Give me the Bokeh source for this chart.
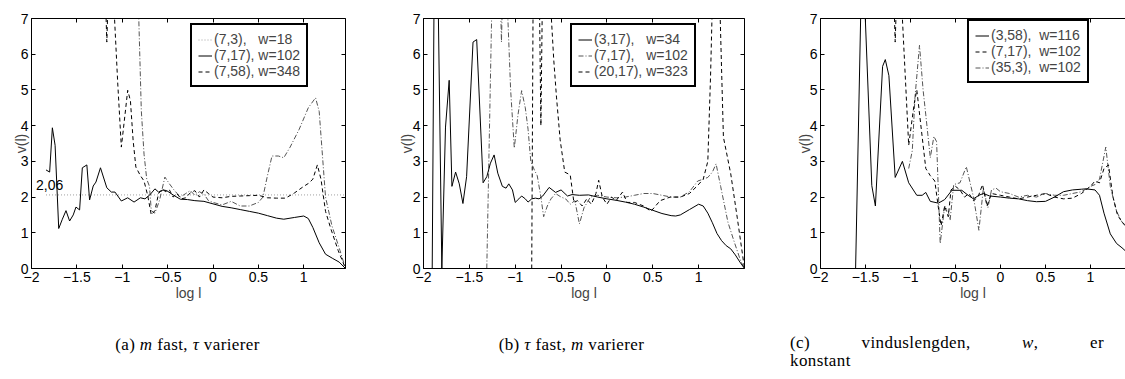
from bokeh.plotting import figure
from bokeh.models import Range1d, LinearAxis, FixedTicker, Label, Legend, LegendItem, Div
from bokeh.layouts import row, column
from bokeh.embed import file_html
from bokeh.resources import INLINE

# ---------------- data ----------------
x_ticks = [-2, -1.5, -1, -0.5, 0, 0.5, 1]
x_tick_labels = ["\u22122", "\u22121.5", "\u22121", "\u22120.5", "0", "0.5", "1"]
y_ticks = [0, 1, 2, 3, 4, 5, 6, 7]

# panel (a): m fixed, tau varies
a_ref_x = [-1.84, 1.46]
a_ref_y = [2.06, 2.06]
a_ref_label = "2,06"

a_solid_x = [-1.84, -1.80, -1.77, -1.74, -1.70, -1.66, -1.62, -1.58, -1.54, -1.51, -1.47, -1.44, -1.39, -1.36,
             -1.32, -1.29, -1.24, -1.17, -1.12, -1.08, -1.01, -0.94, -0.87, -0.80, -0.75, -0.70, -0.64, -0.60,
             -0.55, -0.51, -0.44, -0.36, -0.28, -0.20, -0.10, 0.0, 0.1, 0.2, 0.3, 0.4, 0.5, 0.6, 0.7, 0.78,
             0.9, 1.0, 1.05, 1.1, 1.17, 1.24, 1.32, 1.39, 1.46]
a_solid_y = [2.76, 2.70, 3.94, 3.45, 1.12, 1.38, 1.62, 1.33, 1.50, 1.72, 1.64, 2.82, 2.90, 1.92,
             2.31, 2.42, 2.82, 2.26, 2.14, 2.14, 1.89, 1.98, 1.86, 1.98, 1.95, 2.05, 2.23, 2.14,
             2.20, 2.18, 2.06, 1.94, 1.93, 1.90, 1.88, 1.81, 1.74, 1.70, 1.65, 1.60, 1.55, 1.48, 1.41, 1.38,
             1.43, 1.47, 1.40, 1.15, 0.72, 0.40, 0.28, 0.18, 0.0]

a_dash_x = [-1.185, -1.17, -1.155, -1.12, -1.085, -1.05, -1.01, -0.97, -0.94, -0.91, -0.88, -0.85, -0.80,
            -0.76, -0.72, -0.68, -0.64, -0.60, -0.56, -0.52, -0.48, -0.44, -0.40, -0.35, -0.30, -0.25, -0.20,
            -0.15, -0.10, -0.05, 0.0, 0.1, 0.2, 0.3, 0.4, 0.5, 0.6, 0.7, 0.8, 0.9, 1.0, 1.05, 1.1, 1.15,
            1.19, 1.24, 1.30, 1.38, 1.46]
a_dash_y = [7.6, 6.34, 7.6, 12.0, 7.0, 5.2, 3.40, 4.3, 4.99, 4.7, 3.58, 2.84, 2.6,
            2.45, 2.05, 1.50, 1.62, 2.10, 2.22, 2.15, 2.20, 2.0, 2.10, 1.95, 1.98, 2.12, 2.18,
            2.0, 2.2, 2.1, 2.0, 1.98, 2.02, 2.03, 2.04, 2.05, 1.98, 1.97, 1.97, 2.12, 2.3, 2.38, 2.5, 2.9,
            2.5, 1.6, 1.1, 0.5, 0.0]

a_dashdot_x = [-0.82, -0.79, -0.76, -0.73, -0.70, -0.68, -0.64, -0.59, -0.53, -0.48, -0.43, -0.36, -0.30,
               -0.25, -0.20, -0.15, -0.10, -0.05, 0.0, 0.1, 0.2, 0.3, 0.4, 0.5, 0.55, 0.60, 0.65, 0.72,
               0.78, 0.85, 0.95, 1.05, 1.13, 1.17, 1.24, 1.31, 1.40, 1.46]
a_dashdot_y = [7.2, 4.42, 3.2, 2.5, 2.3, 1.62, 1.55, 1.9, 2.56, 2.37, 2.2, 2.0, 2.1,
               2.18, 2.05, 2.15, 2.08, 1.9, 1.85, 1.78, 1.88, 1.75, 1.75, 1.85, 2.0, 2.6, 3.15, 3.15,
               3.1, 3.4, 3.9, 4.5, 4.78, 4.4, 2.0, 1.2, 0.5, 0.0]

a_labels = ["(7,3),\u00a0\u00a0\u00a0w=18", "(7,17), w=102", "(7,58), w=348"]

# panel (b): tau fixed, m varies
b_solid_x = [-1.905, -1.885, -1.86, -1.84, -1.80, -1.76, -1.72, -1.69, -1.65, -1.61, -1.57, -1.53, -1.46,
             -1.42, -1.35, -1.31, -1.27, -1.23, -1.19, -1.14, -1.10, -1.07, -1.03, -1.00, -0.96, -0.93,
             -0.89, -0.86, -0.82, -0.78, -0.74, -0.70, -0.63, -0.56, -0.50, -0.43, -0.38, -0.30, -0.20,
             -0.10, 0.0, 0.1, 0.2, 0.3, 0.4, 0.5, 0.6, 0.7, 0.75, 0.8, 0.9, 1.0, 1.05, 1.1, 1.15, 1.2,
             1.25, 1.3, 1.35, 1.4, 1.45, 1.5]
b_solid_y = [0.0, 7.5, 10.0, 7.5, 0.0, 3.96, 5.27, 2.3, 2.70, 2.37, 1.82, 2.57, 6.34,
             6.41, 2.40, 2.57, 2.95, 3.18, 2.67, 2.30, 2.25, 2.37, 2.20, 1.85, 1.95, 2.03,
             1.95, 1.86, 1.95, 1.97, 1.95, 2.03, 2.27, 2.13, 2.20, 2.03, 2.07, 2.05, 2.06,
             2.0, 1.95, 1.91, 1.86, 1.80, 1.72, 1.63, 1.54, 1.48, 1.47, 1.50, 1.65, 1.80, 1.75, 1.55, 1.28, 0.98,
             0.78, 0.64, 0.55, 0.38, 0.18, 0.0]

b_dashdot_x = [-1.31, -1.25, -1.20, -1.16, -1.15, -1.14, -1.11, -1.08, -1.05, -1.01, -0.97, -0.93, -0.89,
               -0.86, -0.83, -0.79, -0.76, -0.72, -0.69, -0.65, -0.61, -0.56, -0.50, -0.45, -0.40, -0.35,
               -0.30, -0.25, -0.18, -0.10, 0.0, 0.1, 0.2, 0.3, 0.4, 0.5, 0.6, 0.7, 0.8, 0.9, 0.99, 1.05,
               1.1, 1.15, 1.19, 1.24, 1.32, 1.39, 1.46, 1.5]
b_dashdot_y = [0.0, 8.0, 10.0, 7.5, 6.34, 7.5, 10.0, 7.0, 5.0, 3.37, 4.3, 4.98, 4.5,
               3.9, 3.0, 2.75, 2.6, 2.0, 1.45, 1.75, 1.95, 2.1, 2.0, 1.95, 1.8, 1.9,
               1.25, 1.7, 2.0, 2.05, 2.0, 1.98, 2.0, 2.05, 2.1, 2.1, 2.05, 2.0, 2.0, 2.15, 2.45, 2.5,
               2.55, 2.7, 2.93, 2.3, 1.29, 0.73, 0.2, 0.0]

b_dash_x = [-0.82, -0.805, -0.77, -0.735, -0.72, -0.705, -0.67, -0.64, -0.61, -0.58, -0.55, -0.51, -0.46,
            -0.40, -0.36, -0.32, -0.27, -0.22, -0.17, -0.12, -0.09, -0.05, 0.0, 0.05, 0.1, 0.17, 0.22,
            0.3, 0.4, 0.48, 0.58, 0.69, 0.8, 0.9, 0.98, 1.05, 1.1, 1.13, 1.15, 1.19, 1.23, 1.27, 1.35,
            1.42, 1.5]
b_dash_y = [0.0, 7.5, 10.0, 7.3, 4.0, 7.3, 10.0, 10.0, 7.2, 5.85, 4.8, 3.6, 2.70,
            2.62, 1.85, 1.9, 1.75, 1.95, 1.8, 2.1, 2.47, 2.0, 1.8, 2.0, 1.9, 2.14, 1.85,
            1.85, 1.75, 1.6, 1.9, 2.0, 2.0, 2.1, 2.3, 2.5, 3.0, 5.4, 7.5, 10.0, 7.5, 3.68, 2.65,
            1.44, 0.0]

b_labels = ["(3,17),\u00a0\u00a0\u00a0w=34", "(7,17),\u00a0\u00a0\u00a0w=102", "(20,17), w=323"]

# panel (c): window length constant
c_solid_x = [-1.61, -1.55, -1.53, -1.51, -1.43, -1.39, -1.31, -1.28, -1.24, -1.17, -1.09, -1.02, -0.93,
             -0.87, -0.83, -0.78, -0.69, -0.62, -0.54, -0.43, -0.36, -0.30, -0.24, -0.19, -0.12, 0.0,
             0.1, 0.2, 0.3, 0.4, 0.5, 0.6, 0.7, 0.8, 0.9, 0.95, 1.05, 1.1, 1.15, 1.22, 1.29, 1.35, 1.42]
c_solid_y = [0.0, 7.5, 9.0, 7.5, 2.32, 1.75, 5.66, 5.85, 5.4, 2.55, 3.0, 2.4, 2.05,
             2.05, 2.13, 1.88, 1.83, 1.93, 2.19, 2.19, 2.05, 1.95, 2.05, 2.1, 2.03, 2.0,
             1.97, 1.95, 1.9, 1.87, 1.88, 2.0, 2.15, 2.2, 2.22, 2.23, 2.2, 2.05, 1.55, 0.97, 0.7, 0.58, 0.42]

c_dash_x = [-1.185, -1.17, -1.155, -1.12, -1.09, -1.02, -0.96, -0.93, -0.88, -0.83, -0.78, -0.73, -0.69,
            -0.66, -0.62, -0.58, -0.55, -0.50, -0.45, -0.40, -0.35, -0.30, -0.25, -0.20, -0.15, -0.10,
            0.0, 0.1, 0.2, 0.3, 0.4, 0.5, 0.6, 0.7, 0.8, 0.9, 1.0, 1.05, 1.1, 1.15, 1.2, 1.25, 1.3,
            1.35, 1.42]
c_dash_y = [7.6, 6.34, 7.6, 12.0, 7.0, 3.45, 4.6, 5.0, 3.9, 2.8, 2.6, 2.45, 1.7,
            1.2, 1.75, 1.45, 2.2, 2.3, 2.2, 2.0, 2.1, 1.9, 2.0, 2.35, 1.75, 2.1,
            2.05, 2.0, 1.95, 2.0, 2.05, 2.1, 2.0, 1.95, 1.97, 2.1, 2.3, 2.45, 2.4, 2.8, 2.9, 2.0, 1.5,
            1.3, 1.1]

c_dashdot_x = [-1.02, -0.98, -0.95, -0.90, -0.86, -0.83, -0.78, -0.74, -0.71, -0.67, -0.62, -0.58, -0.56,
               -0.52, -0.45, -0.38, -0.30, -0.24, -0.19, -0.14, -0.10, -0.05, 0.0, 0.1, 0.2, 0.3, 0.4,
               0.5, 0.6, 0.7, 0.8, 0.9, 1.0, 1.05, 1.1, 1.17, 1.22, 1.29, 1.35, 1.42]
c_dashdot_y = [2.8, 3.3, 4.8, 6.25, 5.0, 4.3, 3.1, 3.7, 3.55, 0.7, 1.75, 1.6, 1.35,
               2.35, 2.4, 2.85, 2.0, 1.07, 2.25, 1.7, 2.2, 2.25, 2.15, 2.1, 2.0, 2.05, 2.0,
               2.1, 2.05, 2.05, 2.1, 2.15, 2.3, 2.35, 2.5, 3.4, 2.3, 1.6, 1.3, 1.15]

c_labels = ["(3,58),\u00a0\u00a0w=116", "(7,17),\u00a0\u00a0w=102", "(35,3),\u00a0\u00a0w=102"]

# ---------------- styles ----------------
FONT = "Liberation Sans"
SOLID = dict(line_color="black", line_width=1)
DASH = dict(line_color="black", line_width=1, line_dash="4 3")
DASHDOT = dict(line_color="#555555", line_width=1, line_dash="5 2 1 2")
DOT = dict(line_color="#a0a0a0", line_width=1, line_dash="1 2")
FAR = ([-10, -9], [-10, -10])  # legend-sample renderers, outside the visible ranges


def style_axis(ax, ticks, labels_on, overrides=None):
    ax.ticker = FixedTicker(ticks=ticks)
    ax.major_tick_in = 4
    ax.major_tick_out = 0
    ax.minor_tick_in = 0
    ax.minor_tick_out = 0
    ax.axis_line_color = "black"
    ax.axis_line_width = 1
    ax.major_tick_line_color = "black"
    ax.major_label_text_font = FONT
    ax.major_label_standoff = 3
    if labels_on:
        ax.major_label_text_font_size = "14px"
        ax.major_label_text_color = "black"
        if overrides:
            ax.major_label_overrides = overrides
    else:
        ax.major_label_text_font_size = "1px"
        ax.major_label_text_color = None
        ax.major_label_standoff = 0


def make_panel(x_end, frame_w, b_left, b_right, right_axis, ylab_standoff):
    p = figure(frame_width=frame_w, frame_height=250,
               min_border_left=b_left, min_border_right=b_right,
               min_border_top=18, min_border_bottom=40,
               x_range=Range1d(-2, x_end), y_range=Range1d(0, 7),
               toolbar_location=None, output_backend="svg",
               outline_line_color=None, background_fill_color="white",
               border_fill_color="white")
    p.xgrid.visible = False
    p.ygrid.visible = False
    overrides = {float(t): l for t, l in zip(x_ticks, x_tick_labels)}
    bx = p.below[0]
    style_axis(bx, x_ticks, True, overrides)
    bx.axis_label = "log l"
    bx.axis_label_text_font = FONT
    bx.axis_label_text_font_size = "14px"
    bx.axis_label_text_font_style = "normal"
    bx.axis_label_standoff = 0
    ly = p.left[0]
    style_axis(ly, y_ticks, True)
    ly.axis_label = "v(l)"
    ly.axis_label_text_font = FONT
    ly.axis_label_text_font_size = "14px"
    ly.axis_label_text_font_style = "normal"
    ly.axis_label_standoff = ylab_standoff
    top = LinearAxis()
    style_axis(top, x_ticks, False)
    p.add_layout(top, "above")
    if right_axis:
        ra = LinearAxis()
        style_axis(ra, y_ticks, False)
        p.add_layout(ra, "right")
    return p


def add_legend(p, labels, styles, loc):
    items = []
    for lab, st in zip(labels, styles):
        r = p.line(FAR[0], FAR[1], **st)
        items.append(LegendItem(label=lab, renderers=[r]))
    leg = Legend(items=items, location=loc, border_line_color="black", border_line_width=2,
                 border_line_alpha=1.0,
                 padding=6, spacing=0, margin=0, glyph_width=14, glyph_height=15,
                 label_height=15, label_standoff=2, label_text_font=FONT,
                 label_text_font_size="14px", background_fill_color="white",
                 background_fill_alpha=1.0)
    p.add_layout(leg, "center")


# ---------------- panel (a) ----------------
pa = make_panel(1.46, 314, 31, 30, True, -11)
pa.line(a_ref_x, a_ref_y, **DOT)
pa.line(a_dashdot_x, a_dashdot_y, **DASHDOT)
pa.line(a_dash_x, a_dash_y, **DASH)
pa.line(a_solid_x, a_solid_y, **SOLID)
pa.add_layout(Label(x=-1.95, y=2.2, text=a_ref_label, text_font=FONT, text_font_size="14px",
                    text_baseline="bottom", text_align="left", text_color="black"))
add_legend(pa, a_labels, [DOT, SOLID, DASH], (159, 181))

# ---------------- panel (b) ----------------
pb = make_panel(1.5, 321, 48, 28, True, -5)
pb.line(b_dashdot_x, b_dashdot_y, **DASHDOT)
pb.line(b_dash_x, b_dash_y, **DASH)
pb.line(b_solid_x, b_solid_y, **SOLID)
add_legend(pb, b_labels, [SOLID, DASHDOT, DASH], (147, 181))

# ---------------- panel (c) ----------------
pc = make_panel(1.389, 305, 48, 0, False, -6)
pc.line(c_dashdot_x, c_dashdot_y, **DASHDOT)
pc.line(c_dash_x, c_dash_y, **DASH)
pc.line(c_solid_x, c_solid_y, **SOLID)
add_legend(pc, c_labels, [SOLID, DASH, DASHDOT], (147, 185))

# ---------------- captions ----------------
CAP = ("font-family:'Liberation Serif',serif;font-size:17px;letter-spacing:0.4px;"
       "color:black;line-height:18px;")
da = Div(text=f"<div style=\"{CAP}text-align:center;width:375px;padding-top:28px;\">(a) <i>m</i> fast, <i>\u03c4</i> varierer</div>",
         width=375, height=71, margin=(0, 0, 0, 0))
db = Div(text=f"<div style=\"{CAP}text-align:center;width:393px;padding-top:28px;\">(b) <i>\u03c4</i> fast, <i>m</i> varierer</div>",
         width=397, height=71, margin=(0, 0, 0, 0))
dc = Div(text=(f"<div style=\"{CAP}padding-top:26px;padding-left:18px;width:332px;\">"
               f"<div style=\"text-align:justify;text-align-last:justify;\">(c) vinduslengden, <i>w</i>, er</div>"
               f"<div>konstant</div></div>"),
         width=353, height=71, margin=(0, 0, 0, 0))

layout = column(row(pa, pb, pc), row(da, db, dc))

with open("out.html", "w") as f:
    f.write(file_html(layout, INLINE))
